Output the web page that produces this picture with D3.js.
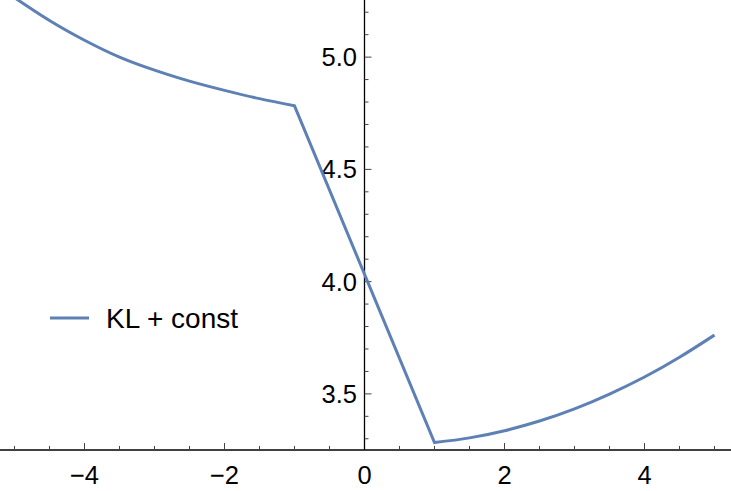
<!DOCTYPE html>
<html>
<head>
<meta charset="utf-8">
<script src="https://cdn.jsdelivr.net/npm/d3@7"></script>
<style>
  body { margin: 0; background: #fff; }
  text { font-family: "Liberation Sans", Arial, sans-serif; fill: #000; }
</style>
</head>
<body>
<div id="chart"></div>
<script>
// data
var leftX  = [-5, -4.5, -4, -3.5, -3, -2.5, -2, -1.5, -1];
var leftY  = [5.265, 5.163, 5.075, 5.0, 4.942, 4.893, 4.852, 4.815, 4.783];
var midX   = [-1, 1];
var midY   = [4.783, 3.283];
var rightX = [1, 1.5, 2, 2.5, 3, 3.5, 4, 4.5, 5];
var rightY = [3.283, 3.304, 3.336, 3.379, 3.433, 3.499, 3.575, 3.663, 3.762];

var xMajor = [-4, -2, 0, 2, 4];
var xMinor = d3.range(-5, 5.01, 0.5);
var yMajor = [3.5, 4.0, 4.5, 5.0];
var yMinor = [3.3, 3.4, 3.6, 3.7, 3.8, 3.9, 4.1, 4.2, 4.3, 4.4, 4.6, 4.7, 4.8, 4.9, 5.1, 5.2];
var seriesName = "KL + const";

var width = 731, height = 491;

var svg = d3.select("#chart")
    .append("svg")
    .attr("width", width)
    .attr("height", height);

var x = d3.scaleLinear().domain([-5, 5]).range([14.5, 714.5]);
var y = d3.scaleLinear().domain([3.25, 5.25]).range([450, 1]);

svg.append("defs").append("clipPath").attr("id", "clip")
    .append("rect").attr("x", 0).attr("y", 0).attr("width", width).attr("height", y(3.25));

// x axis
var xAxis = svg.append("g");
xAxis.append("line")
    .attr("x1", 0).attr("x2", width)
    .attr("y1", y(3.25)).attr("y2", y(3.25))
    .attr("stroke", "#000").attr("stroke-width", 1.3);
xAxis.selectAll(".xminor")
    .data(xMinor.filter(function(d) { return xMajor.indexOf(d) < 0; }))
    .enter().append("line")
    .attr("x1", function(d) { return x(d); }).attr("x2", function(d) { return x(d); })
    .attr("y1", y(3.25)).attr("y2", y(3.25) - 4)
    .attr("stroke", "#444").attr("stroke-width", 1);
xAxis.selectAll(".xmajor")
    .data(xMajor.filter(function(d) { return d !== 0; }))
    .enter().append("line")
    .attr("x1", function(d) { return x(d); }).attr("x2", function(d) { return x(d); })
    .attr("y1", y(3.25)).attr("y2", y(3.25) - 7)
    .attr("stroke", "#444").attr("stroke-width", 1);
xAxis.selectAll(".xlabel")
    .data(xMajor)
    .enter().append("text")
    .attr("x", function(d) { return x(d); })
    .attr("y", 484)
    .attr("text-anchor", "middle")
    .style("font-size", "25.5px")
    .text(function(d) { return d < 0 ? "\u2212" + Math.abs(d) : d; });

// y axis
var yAxis = svg.append("g");
yAxis.append("line")
    .attr("x1", x(0)).attr("x2", x(0))
    .attr("y1", 0).attr("y2", y(3.25))
    .attr("stroke", "#000").attr("stroke-width", 1.3);
yAxis.selectAll(".yminor")
    .data(yMinor)
    .enter().append("line")
    .attr("x1", x(0)).attr("x2", x(0) + 4)
    .attr("y1", function(d) { return y(d); }).attr("y2", function(d) { return y(d); })
    .attr("stroke", "#444").attr("stroke-width", 1);
yAxis.selectAll(".ymajor")
    .data(yMajor)
    .enter().append("line")
    .attr("x1", x(0)).attr("x2", x(0) + 7)
    .attr("y1", function(d) { return y(d); }).attr("y2", function(d) { return y(d); })
    .attr("stroke", "#444").attr("stroke-width", 1);
yAxis.selectAll(".ylabel")
    .data(yMajor)
    .enter().append("text")
    .attr("x", 357)
    .attr("y", function(d) { return y(d) + 9; })
    .attr("text-anchor", "end")
    .style("font-size", "25.5px")
    .text(function(d) { return d.toFixed(1); });

// curve, three pieces joined into one path
function pieces(xs, ys) { return xs.map(function(v, i) { return [v, ys[i]]; }); }
var smooth = d3.line()
    .x(function(d) { return x(d[0]); })
    .y(function(d) { return y(d[1]); })
    .curve(d3.curveNatural);
var straight = d3.line()
    .x(function(d) { return x(d[0]); })
    .y(function(d) { return y(d[1]); });

var pathD = smooth(pieces(leftX, leftY))
    + straight(pieces(midX, midY)).replace(/^M/, "L")
    + smooth(pieces(rightX, rightY)).replace(/^M/, "L");

svg.append("path")
    .attr("clip-path", "url(#clip)")
    .attr("d", pathD)
    .attr("fill", "none")
    .attr("stroke", "#5E81B5")
    .attr("stroke-width", 3)
    .attr("stroke-linejoin", "miter");

// legend
svg.append("line")
    .attr("x1", 50).attr("x2", 89)
    .attr("y1", 318).attr("y2", 318)
    .attr("stroke", "#5E81B5").attr("stroke-width", 3);
svg.append("text")
    .attr("x", 106).attr("y", 328)
    .style("font-size", "28px")
    .text(seriesName);
</script>
</body>
</html>
